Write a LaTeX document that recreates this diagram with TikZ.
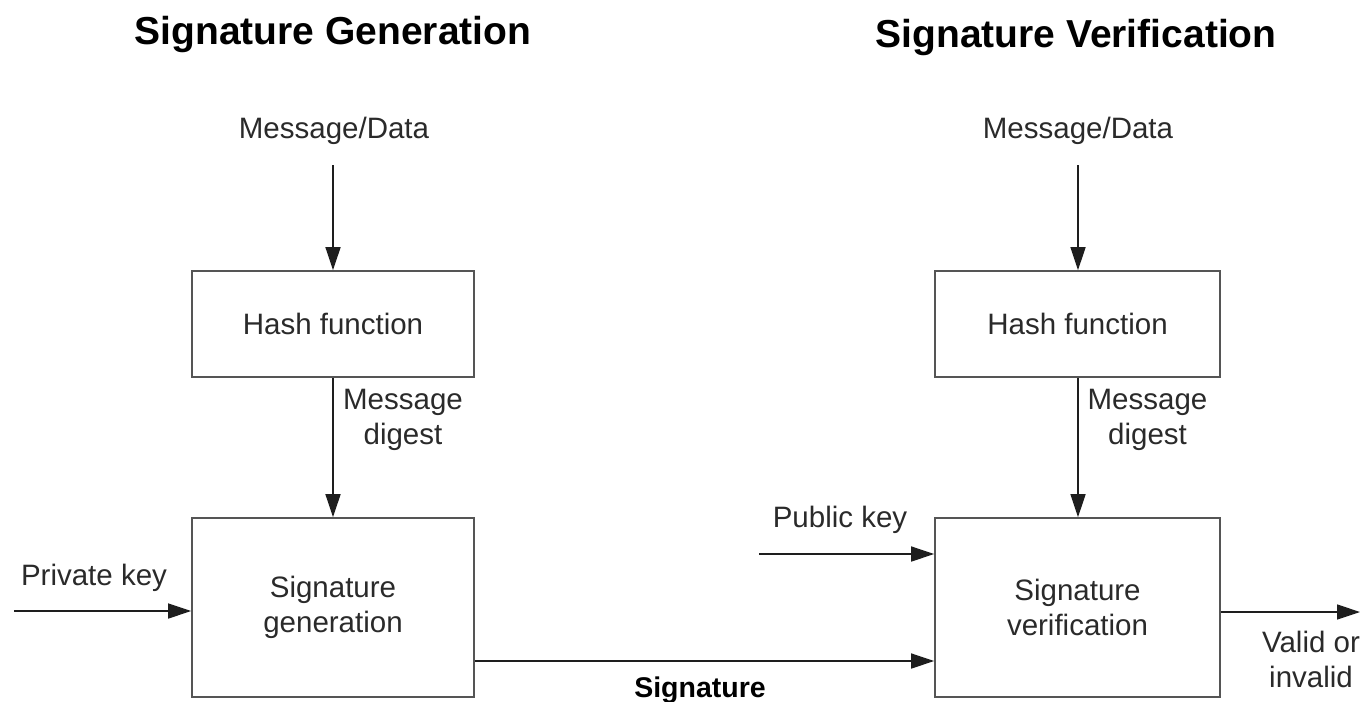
\documentclass[tikz,border=0pt]{standalone}
\usepackage{fontspec}
\setmainfont{Liberation Sans}
\usetikzlibrary{arrows.meta}
\definecolor{txt}{HTML}{2A2A2A}
\definecolor{boxline}{HTML}{555555}
\definecolor{arrowline}{HTML}{1E1E1E}
\begin{document}
\begin{tikzpicture}[x=1pt,y=-1pt,
  every node/.style={font=\fontsize{29.5pt}{35pt}\selectfont, text=txt, inner sep=0pt},
  boxnode/.style={draw=boxline, line width=1.6pt, align=center},
  titlenode/.style={font=\fontsize{39pt}{44pt}\selectfont\bfseries, text=black, anchor=base},
  lbl/.style={align=center},
  conn/.style={draw=arrowline, line width=1.4pt, -{Triangle[length=23pt,width=15pt]}}
]
\useasboundingbox (0,0) rectangle (1364,701);
% titles
\node[titlenode] (t1) at (333,45) {Signature Generation};
\node[titlenode] (t2) at (1076,48) {Signature Verification};
% inputs
\node[anchor=base] (m1) at (334,138) {Message/Data};
\node[anchor=base] (m2) at (1078,138) {Message/Data};
% boxes
\node[boxnode, minimum width=282pt, minimum height=106pt] (h1) at (333,324) {Hash function};
\node[boxnode, minimum width=285pt, minimum height=106pt] (h2) at (1077.5,324) {Hash function};
\node[boxnode, minimum width=282pt, minimum height=179pt] (g1) at (333,607.5) {Signature\\generation};
\node[boxnode, minimum width=285pt, minimum height=179pt] (v) at (1077.5,607.5) {Signature\\verification};
% labels
\node[lbl] (d1) at (403,420) {Message\\digest};
\node[lbl] (d2) at (1147.5,420) {Message\\digest};
\node[anchor=base] (pk) at (94,585) {Private key};
\node[anchor=base] (pub) at (840,527) {Public key};
\node[anchor=base, font=\fontsize{28.5pt}{34pt}\selectfont\bfseries, text=black] (sig) at (700,697) {Signature};
\node[lbl] (res) at (1311,659) {Valid or\\invalid};
% free ends
\coordinate (m1s) at (333,165);
\coordinate (m2s) at (1078,165);
\coordinate (pkstart) at (14,611);
\coordinate (pubstart) at (759,554);
\coordinate (outend) at (1360,612);
\coordinate (sigy) at (0,661);
% connectors
\draw[conn] (m1s) -- (m1s |- h1.north);
\draw[conn] (m2s) -- (m2s |- h2.north);
\draw[conn] (h1.south) -- (g1.north);
\draw[conn] (m2s |- h2.south) -- (m2s |- v.north);
\draw[conn] (pkstart) -- (pkstart -| g1.west);
\draw[conn] (pubstart) -- (pubstart -| v.west);
\draw[conn] (g1.east |- sigy) -- (v.west |- sigy);
\draw[conn] (v.east |- outend) -- (outend);
\end{tikzpicture}
\end{document}
